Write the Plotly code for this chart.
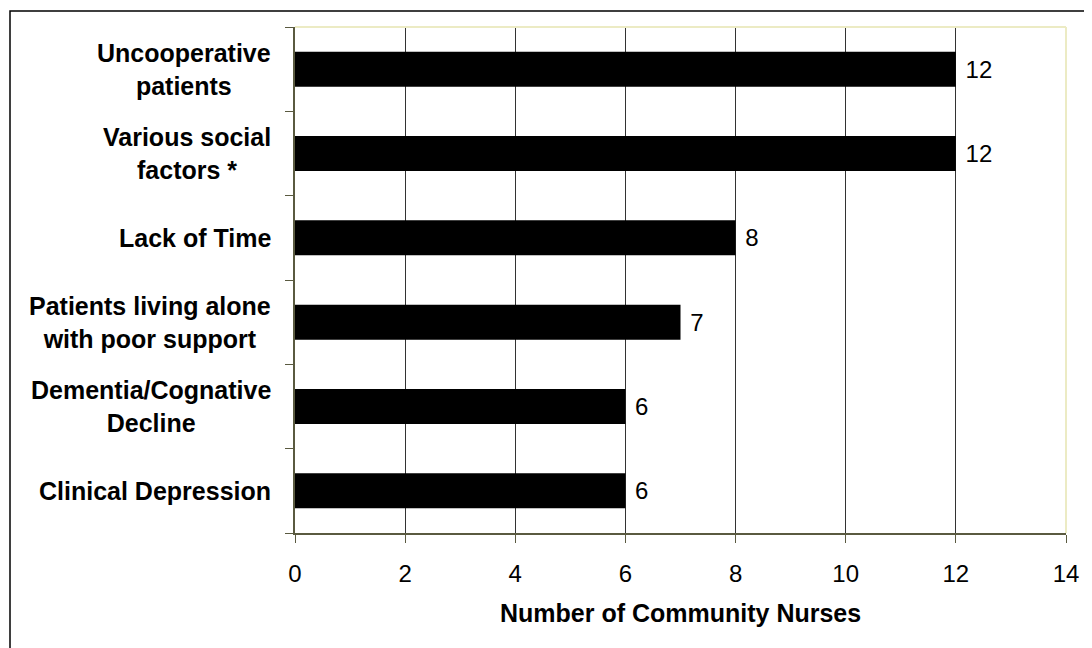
import plotly.graph_objects as go

categories = [
    "Uncooperative<br>patients",
    "Various social<br>factors *",
    "Lack of Time",
    "Patients living alone<br>with poor support",
    "Dementia/Cognative<br>Decline",
    "Clinical Depression",
]
values = [12, 12, 8, 7, 6, 6]
x_ticks = [0, 2, 4, 6, 8, 10, 12, 14]
x_title = "Number of Community Nurses"

FONT = "Liberation Sans, Arial, sans-serif"
AXIS_COL = "#5a5a40"

W, H = 1084, 640
L, R, T, B = 287, 26, 19, 115
PW, PH = W - L - R, H - T - B

fig = go.Figure()
fig.add_trace(go.Bar(
    x=values, y=categories, orientation="h",
    marker=dict(color="black", line=dict(width=0)),
    text=[f" {v}" for v in values], textposition="outside",
    textfont=dict(family=FONT, size=24, color="black"),
    cliponaxis=False, hoverinfo="skip",
))

annotations = []
for c in categories:
    annotations.append(dict(
        x=0, xref="paper", y=c, yref="y", xanchor="right", yanchor="middle",
        xshift=-22, text=f"<b>{c}</b>", showarrow=False, align="center",
        font=dict(family=FONT, size=25, color="black"),
    ))
annotations.append(dict(
    x=0.5, xref="paper", y=-80 / PH, yref="paper", xanchor="center", yanchor="middle",
    text=f"<b>{x_title}</b>", showarrow=False,
    font=dict(family=FONT, size=25, color="black"),
))

shapes = [
    # outer chart border (cropped at right/bottom)
    dict(type="rect", xref="paper", yref="paper",
         x0=(2 - L) / PW, x1=1.2, y0=-0.4, y1=1 + (T - 3) / PH,
         line=dict(color="black", width=1.5), layer="below"),
    # light plot-area border top/right
    dict(type="line", xref="paper", yref="paper", x0=0, x1=1, y0=1, y1=1,
         line=dict(color="#ecebc4", width=2)),
    dict(type="line", xref="paper", yref="paper", x0=1, x1=1, y0=0, y1=1,
         line=dict(color="#ecebc4", width=2)),
]

fig.update_layout(
    width=W, height=H,
    margin=dict(l=L, r=R, t=T, b=B),
    paper_bgcolor="white", plot_bgcolor="white",
    bargap=0.585, showlegend=False,
    font=dict(family=FONT, size=24, color="black"),
    annotations=annotations, shapes=shapes,
)
fig.update_xaxes(
    range=[0, 14], tickvals=x_ticks, ticktext=[str(t) for t in x_ticks],
    showgrid=True, gridcolor="#333333", gridwidth=1,
    showline=True, linecolor=AXIS_COL, linewidth=1.5,
    ticks="outside", ticklen=8, tickcolor=AXIS_COL,
    tickfont=dict(family=FONT, size=24, color="black"),
    ticklabelstandoff=10, zeroline=False, fixedrange=True,
)
fig.update_yaxes(
    categoryorder="array", categoryarray=categories[::-1],
    autorange=False, range=[-0.5, len(categories) - 0.5],
    showticklabels=False, showgrid=False,
    showline=True, linecolor=AXIS_COL, linewidth=1.5,
    ticks="outside", tickson="boundaries", ticklen=8, tickcolor=AXIS_COL,
    zeroline=False, fixedrange=True,
)

fig.write_html("out.html")
